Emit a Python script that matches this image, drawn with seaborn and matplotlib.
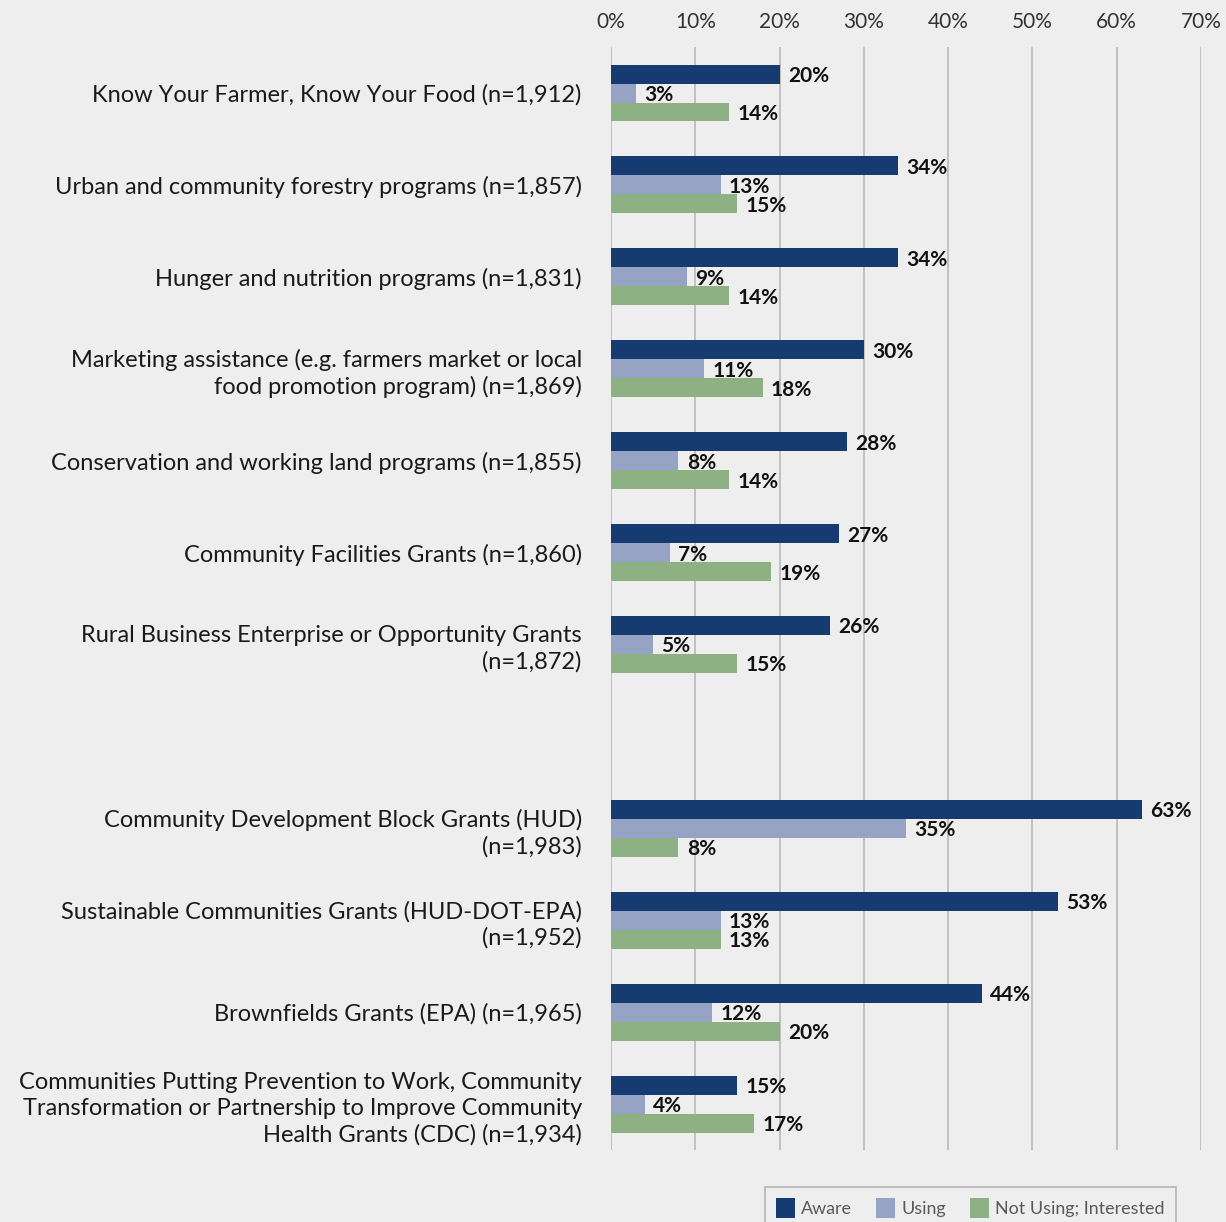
import matplotlib
matplotlib.use("Agg")
import matplotlib.pyplot as plt
import seaborn as sns
import pandas as pd

programs = [
    "Know Your Farmer, Know Your Food (n=1,912)",
    "Urban and community forestry programs (n=1,857)",
    "Hunger and nutrition programs (n=1,831)",
    "Marketing assistance (e.g. farmers market or local\nfood promotion program) (n=1,869)",
    "Conservation and working land programs (n=1,855)",
    "Community Facilities Grants (n=1,860)",
    "Rural Business Enterprise or Opportunity Grants\n(n=1,872)",
    "Community Development Block Grants (HUD)\n(n=1,983)",
    "Sustainable Communities Grants (HUD-DOT-EPA)\n(n=1,952)",
    "Brownfields Grants (EPA) (n=1,965)",
    "Communities Putting Prevention to Work, Community\nTransformation or Partnership to Improve Community\nHealth Grants (CDC) (n=1,934)",
]
aware = [20, 34, 34, 30, 28, 27, 26, 63, 53, 44, 15]
using = [3, 13, 9, 11, 8, 7, 5, 35, 13, 12, 4]
not_using_interested = [14, 15, 14, 18, 14, 19, 15, 8, 13, 20, 17]

series = ["Aware", "Using", "Not Using; Interested"]
colors = ["#163b70", "#97a3c5", "#8db183"]
x_ticks = [0, 10, 20, 30, 40, 50, 60, 70]

# blank slot separating USDA programs from the other agencies
order = programs[:7] + [" "] + programs[7:]

df = pd.DataFrame({
    "program": programs * 3,
    "series": [s for s in series for _ in programs],
    "value": aware + using + not_using_interested,
})

bg = "#edeeed"
sns.set_theme(style="white")
plt.rcParams["font.family"] = ["Lato", "DejaVu Sans"]

fig = plt.figure(figsize=(12.26, 12.22), dpi=100, facecolor=bg)
ax = fig.add_axes([0.4984, 0.0589, 0.4812, 0.9026])
ax.set_facecolor(bg)

sns.barplot(
    data=df, y="program", x="value", hue="series",
    order=order, hue_order=series, palette=colors,
    orient="h", width=0.62, saturation=1, errorbar=None,
    linewidth=0, ax=ax, legend=False,
)

for cont in ax.containers:
    texts = ax.bar_label(cont, fmt="{:.0f}%", padding=6, fontsize=15,
                         fontweight="bold", color="#111111")
    for t in texts:
        t.set_verticalalignment("center_baseline")

ax.set_xlim(0, 70)
ax.set_xticks(x_ticks)
ax.set_xticklabels([f"{t}%" for t in x_ticks])
ax.xaxis.tick_top()
ax.tick_params(axis="x", length=0, pad=11, labelsize=15, labelcolor="#333333")
ax.tick_params(axis="y", length=0, pad=21, labelsize=17, labelcolor="#1a1a1a")
for lbl in ax.get_yticklabels():
    lbl.set_linespacing(1.3)
ax.set_xlabel("")
ax.set_ylabel("")
ax.grid(axis="x", color="#c0c0c0", linewidth=1.4)
ax.set_axisbelow(True)
for sp in ax.spines.values():
    sp.set_visible(False)

handles = [plt.Rectangle((0, 0), 1, 1, facecolor=c, edgecolor="none") for c in colors]
leg = fig.legend(
    handles, series, loc="upper left",
    bbox_to_anchor=(765 / 1226, 1 - 1187 / 1222), borderaxespad=0,
    ncol=3, frameon=True, fancybox=False, fontsize=12.9,
    handlelength=1.05, handleheight=1.3, handletextpad=0.34,
    columnspacing=1.36, borderpad=0.62, labelcolor="#595959",
)
leg.get_frame().set_facecolor(bg)
leg.get_frame().set_edgecolor("#a6a6a6")
leg.get_frame().set_linewidth(1.2)

fig.savefig("out.png", dpi=100, facecolor=bg)
